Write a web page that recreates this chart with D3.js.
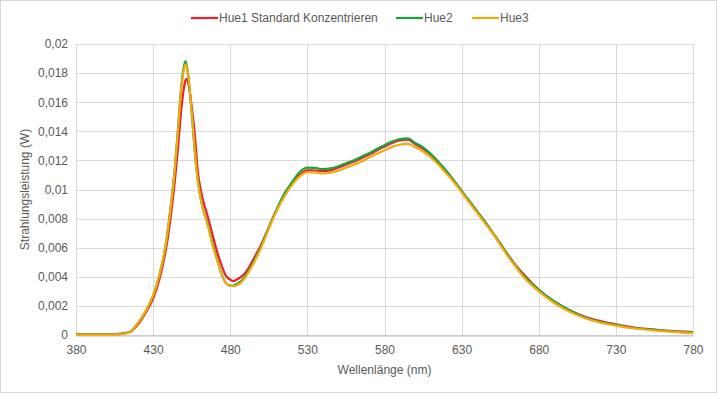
<!DOCTYPE html>
<html>
<head>
<meta charset="utf-8">
<script src="https://cdn.jsdelivr.net/npm/d3@7"></script>
<style>
  body { margin: 0; background: #fff; }
  text { font-family: "Liberation Sans", Arial, sans-serif; fill: #595959; }
</style>
</head>
<body>
<div id="chart"></div>
<script>
// wavelengths (nm)
var wavelengths = [380, 390, 400, 405, 410, 415, 420, 425, 430, 434, 438, 441, 444, 446, 448, 450, 451, 452, 453, 455,
  457, 459, 461, 463, 465, 468, 471, 474, 477, 480, 482, 484, 487, 490, 493, 496, 500, 505, 510, 515,
  520, 525, 530, 535, 540, 545, 550, 555, 560, 565, 570, 575, 580, 585, 590, 595, 600, 605, 610, 615,
  620, 625, 630, 635, 640, 645, 650, 655, 660, 665, 670, 680, 690, 700, 710, 720, 730, 740, 750, 760,
  770, 780];

var hue1 = [0.00007, 0.00007, 0.00007, 0.00007, 0.0001, 0.0002, 0.0007, 0.0015, 0.0025, 0.0038, 0.0057, 0.0078, 0.0105, 0.0127, 0.0152, 0.0170, 0.0175, 0.0176, 0.0172, 0.0157,
  0.0138, 0.0112, 0.0099, 0.0090, 0.0083, 0.0071, 0.0059, 0.0049, 0.0041, 0.0038, 0.0037, 0.0038, 0.0040, 0.0043, 0.0048, 0.0054, 0.0062, 0.0074, 0.0086, 0.0096,
  0.0104, 0.0110, 0.01132, 0.0113, 0.01128, 0.01132, 0.0115, 0.0117, 0.0119, 0.01215, 0.0124, 0.01268, 0.01295, 0.0132, 0.01337, 0.01342, 0.0131, 0.0128, 0.0124, 0.01185,
  0.01125, 0.0106, 0.0099, 0.0092, 0.0085, 0.0078, 0.00705, 0.0063, 0.0055, 0.0048, 0.0042, 0.0031, 0.0023, 0.0017, 0.00125, 0.00095, 0.00073, 0.00055, 0.00042, 0.00032,
  0.00025, 0.0002];

var hue2 = [0.00005, 0.00005, 0.00005, 0.00005, 0.00008, 0.00023, 0.0008, 0.0016, 0.0027, 0.0041, 0.0061, 0.0085, 0.0114, 0.0140, 0.0168, 0.0185, 0.0188, 0.0184, 0.0176, 0.0153,
  0.0126, 0.0106, 0.0093, 0.0084, 0.0078, 0.0065, 0.0054, 0.0043, 0.0036, 0.0034, 0.0034, 0.0035, 0.0037, 0.0041, 0.0046, 0.0052, 0.0061, 0.0074, 0.0086, 0.0097,
  0.0105, 0.0112, 0.0115, 0.01148, 0.0114, 0.01145, 0.0116, 0.0118, 0.0120, 0.01225, 0.0125, 0.01278, 0.01305, 0.0133, 0.01347, 0.01352, 0.0132, 0.0129, 0.01245, 0.0119,
  0.0113, 0.0106, 0.0099, 0.0092, 0.0085, 0.0078, 0.00705, 0.0063, 0.0055, 0.00475, 0.0041, 0.0031, 0.0023, 0.0017, 0.0012, 0.0009, 0.0007, 0.0005, 0.0004, 0.0003,
  0.00022, 0.00017];

var hue3 = [0.00003, 0.00003, 0.00003, 0.00003, 0.00006, 0.0002, 0.0008, 0.0016, 0.0027, 0.0041, 0.0061, 0.0084, 0.0113, 0.0139, 0.0166, 0.0183, 0.0186, 0.0183, 0.0176, 0.0153,
  0.0127, 0.0106, 0.0093, 0.0084, 0.0077, 0.0064, 0.0053, 0.0043, 0.0036, 0.0034, 0.00335, 0.0034, 0.0036, 0.0040, 0.0045, 0.0051, 0.0060, 0.0073, 0.0085, 0.0095,
  0.0103, 0.0109, 0.0112, 0.01118, 0.0111, 0.01115, 0.0113, 0.0115, 0.0117, 0.0119, 0.0122, 0.01245, 0.0127, 0.01293, 0.01308, 0.01313, 0.0129, 0.0126, 0.0122, 0.0117,
  0.0111, 0.0105, 0.0098, 0.0091, 0.0084, 0.0077, 0.0070, 0.0062, 0.0054, 0.0047, 0.0040, 0.0030, 0.0022, 0.0016, 0.00115, 0.00085, 0.00065, 0.00048, 0.00036, 0.00027,
  0.0002, 0.00013];

var seriesNames = ["Hue1 Standard Konzentrieren", "Hue2", "Hue3"];
var seriesColors = ["#e8222a", "#19a53a", "#f5a90f"];
var xTicks = [380, 430, 480, 530, 580, 630, 680, 730, 780];
var yTicks = [0, 0.002, 0.004, 0.006, 0.008, 0.01, 0.012, 0.014, 0.016, 0.018, 0.02];

var svgWidth = 717;
var svgHeight = 394;

var chartMargin = {
  top: 44,
  right: 24,
  bottom: 59,
  left: 76
};

var chartWidth = svgWidth - chartMargin.left - chartMargin.right;
var chartHeight = svgHeight - chartMargin.top - chartMargin.bottom;

var svg = d3.select("#chart")
  .append("svg")
  .attr("width", svgWidth)
  .attr("height", svgHeight);

// outer frame
svg.append("rect")
  .attr("x", 0.5).attr("y", 0.5)
  .attr("width", svgWidth - 1).attr("height", svgHeight - 2)
  .attr("fill", "#fff")
  .attr("stroke", "#d9d9d9");

var chartGroup = svg.append("g")
  .attr("transform", `translate(${chartMargin.left}, ${chartMargin.top})`);

var xLinearScale = d3.scaleLinear()
  .domain([380, 780])
  .range([0, chartWidth]);

var yLinearScale = d3.scaleLinear()
  .domain([0, 0.02])
  .range([chartHeight, 0]);

var fmt = function(d) { return String(+d.toFixed(3)).replace(".", ","); };

// gridlines
chartGroup.append("g")
  .selectAll("line.h")
  .data(yTicks)
  .enter()
  .append("line")
  .attr("x1", 0).attr("x2", chartWidth)
  .attr("y1", d => Math.round(yLinearScale(d)) + 0.5)
  .attr("y2", d => Math.round(yLinearScale(d)) + 0.5)
  .attr("stroke", "#d9d9d9");

chartGroup.append("g")
  .selectAll("line.v")
  .data(xTicks)
  .enter()
  .append("line")
  .attr("y1", 0).attr("y2", chartHeight)
  .attr("x1", d => Math.round(xLinearScale(d)) + 0.5)
  .attr("x2", d => Math.round(xLinearScale(d)) + 0.5)
  .attr("stroke", "#d9d9d9");

// axes
var bottomAxis = d3.axisBottom(xLinearScale).tickValues(xTicks).tickSize(0).tickPadding(10);
var leftAxis = d3.axisLeft(yLinearScale).tickValues(yTicks).tickSize(0).tickPadding(8).tickFormat(fmt);

var xAxis = chartGroup.append("g")
  .attr("transform", `translate(0, ${Math.round(chartHeight) + 0.5})`)
  .call(bottomAxis);
xAxis.select(".domain").attr("stroke", "#bfbfbf");
xAxis.selectAll("text").attr("font-size", 12).attr("fill", "#595959");

var yAxis = chartGroup.append("g")
  .call(leftAxis);
yAxis.select(".domain").remove();
yAxis.selectAll("text").attr("font-size", 12).attr("fill", "#595959");

// lines
var allSeries = [hue1, hue2, hue3];
var line = d3.line()
  .x((d, i) => xLinearScale(wavelengths[i]))
  .y(d => yLinearScale(d))
  .curve(d3.curveMonotoneX);

chartGroup.selectAll("path.series")
  .data(allSeries)
  .enter()
  .append("path")
  .attr("class", "series")
  .attr("d", d => line(d))
  .attr("fill", "none")
  .attr("stroke", (d, i) => seriesColors[i])
  .attr("stroke-width", 2.2)
  .attr("stroke-linejoin", "round");

// axis titles
svg.append("text")
  .attr("x", chartMargin.left + chartWidth / 2)
  .attr("y", 374)
  .attr("text-anchor", "middle")
  .attr("font-size", 12)
  .text("Wellenlänge (nm)");

svg.append("text")
  .attr("transform", `translate(29, ${chartMargin.top + chartHeight / 2}) rotate(-90)`)
  .attr("text-anchor", "middle")
  .attr("font-size", 12)
  .text("Strahlungsleistung (W)");

// legend
var legendX = [191, 396, 472];
var legendGroup = svg.append("g").attr("transform", "translate(0, 18)");
seriesNames.forEach(function(name, i) {
  legendGroup.append("line")
    .attr("x1", legendX[i]).attr("x2", legendX[i] + 27)
    .attr("y1", 0).attr("y2", 0)
    .attr("stroke", seriesColors[i])
    .attr("stroke-width", 2.2);
  legendGroup.append("text")
    .attr("x", legendX[i] + 28)
    .attr("y", 4)
    .attr("font-size", 12)
    .text(name);
});
</script>
</body>
</html>
